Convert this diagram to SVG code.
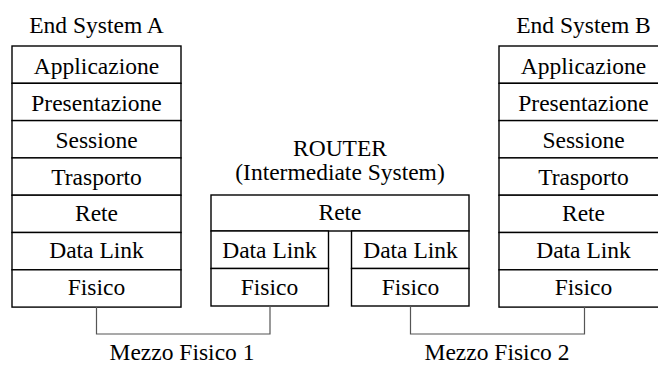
<svg xmlns="http://www.w3.org/2000/svg" width="658" height="365" viewBox="0 0 658 365">
<style>
text{font-family:"Liberation Serif","Times New Roman",serif;font-size:23.5px;fill:#000;text-anchor:middle}
.box rect{fill:#fff;stroke:#000;stroke-width:1.4}
.conn path{fill:none;stroke:#555;stroke-width:1.2}
</style>
<rect width="658" height="365" fill="#fff"/>
<g id="endA" class="box">
<text x="96.5" y="33">End System A</text>
<rect x="12" y="46" width="169" height="37.3"/><text x="96.5" y="73.5">Applicazione</text>
<rect x="12" y="83.3" width="169" height="37.3"/><text x="96.5" y="110.5">Presentazione</text>
<rect x="12" y="120.6" width="169" height="37.3"/><text x="96.5" y="147.5">Sessione</text>
<rect x="12" y="157.9" width="169" height="37.3"/><text x="96.5" y="184.5">Trasporto</text>
<rect x="12" y="195.2" width="169" height="37.3"/><text x="96.5" y="221">Rete</text>
<rect x="12" y="232.5" width="169" height="37.3"/><text x="96.5" y="258">Data Link</text>
<rect x="12" y="269.8" width="169" height="37.3"/><text x="96.5" y="295">Fisico</text>
</g>
<g id="router" class="box">
<text x="340" y="156">ROUTER</text>
<text x="340" y="180">(Intermediate System)</text>
<rect x="211" y="195" width="258" height="36"/><text x="340" y="220">Rete</text>
<rect x="211" y="231" width="117.5" height="37.5"/><text x="269.5" y="257.5">Data Link</text>
<rect x="211" y="268.5" width="117.5" height="37.5"/><text x="269.5" y="295">Fisico</text>
<rect x="351.5" y="231" width="117.5" height="37.5"/><text x="410.5" y="257.5">Data Link</text>
<rect x="351.5" y="268.5" width="117.5" height="37.5"/><text x="410.5" y="295">Fisico</text>
</g>
<g id="endB" class="box">
<text x="583.5" y="33">End System B</text>
<rect x="499" y="46" width="169" height="37.3"/><text x="583.5" y="73.5">Applicazione</text>
<rect x="499" y="83.3" width="169" height="37.3"/><text x="583.5" y="110.5">Presentazione</text>
<rect x="499" y="120.6" width="169" height="37.3"/><text x="583.5" y="147.5">Sessione</text>
<rect x="499" y="157.9" width="169" height="37.3"/><text x="583.5" y="184.5">Trasporto</text>
<rect x="499" y="195.2" width="169" height="37.3"/><text x="583.5" y="221">Rete</text>
<rect x="499" y="232.5" width="169" height="37.3"/><text x="583.5" y="258">Data Link</text>
<rect x="499" y="269.8" width="169" height="37.3"/><text x="583.5" y="295">Fisico</text>
</g>
<g id="connectors" class="conn">
<path d="M96.5 307.1V334H270V306"/>
<path d="M410.5 306V334H584.5V307.1"/>
</g>
<g id="labels">
<text x="182" y="360">Mezzo Fisico 1</text>
<text x="497" y="360">Mezzo Fisico 2</text>
</g>
</svg>
